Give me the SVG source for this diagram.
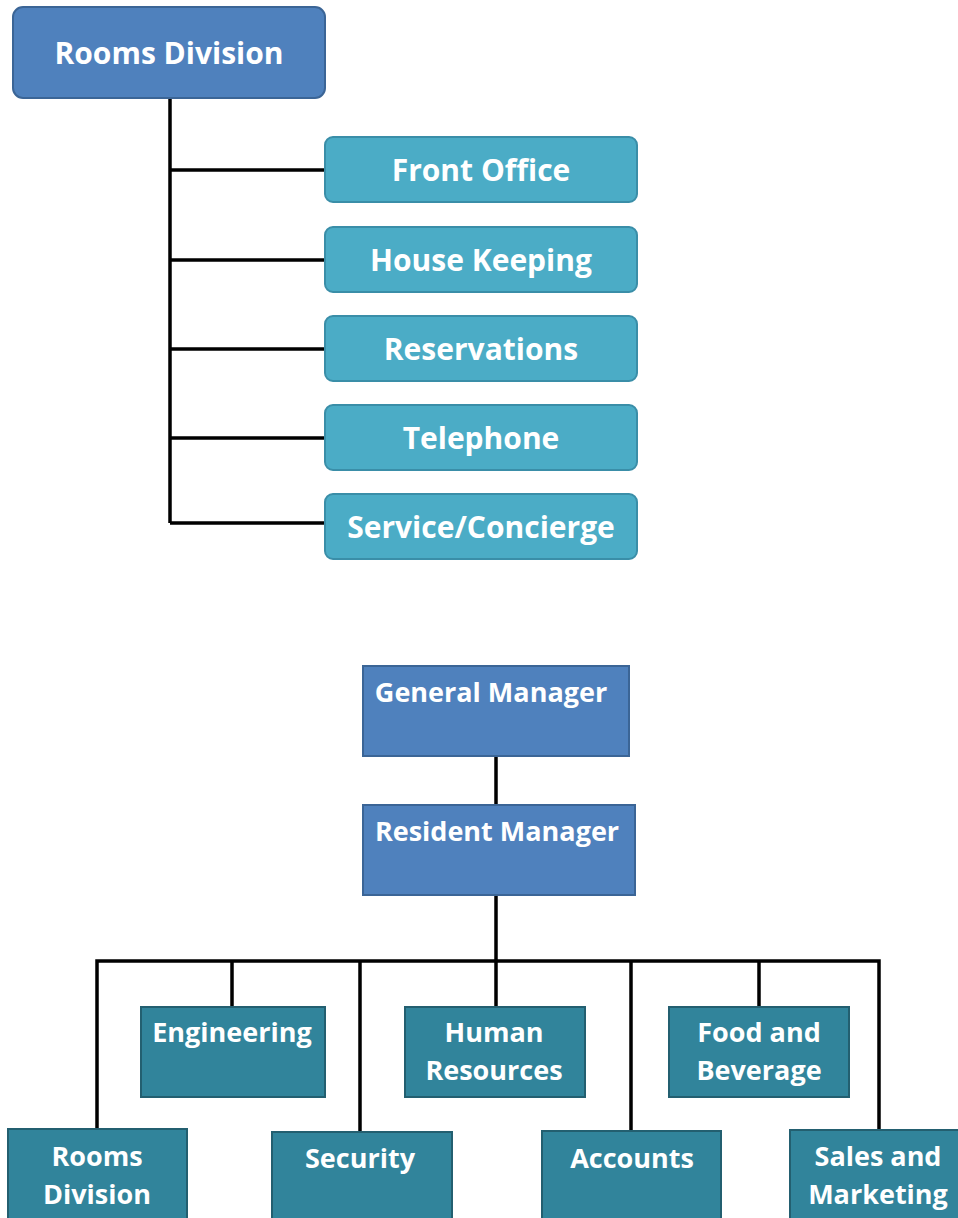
<svg xmlns="http://www.w3.org/2000/svg" width="958" height="1218" viewBox="0 0 958 1218">
<style>
.t{font-family:"Open Sans","Noto Sans",sans-serif;font-weight:bold;fill:#ffffff;text-anchor:middle}
.top{font-size:30px}
.bot{font-size:27px}
.blue{fill:#4F81BD;stroke:#3B6596;stroke-width:2}
.teal{fill:#4BACC6;stroke:#3A8EA8;stroke-width:2}
.dteal{fill:#31849B;stroke:#235F70;stroke-width:2}
.ln{stroke:#000;stroke-width:3.5;fill:none}
</style>
<rect width="958" height="1218" fill="#ffffff"/>
<g id="connectors">
<path class="ln" d="M170 98 V523 M170 170 H325 M170 260 H325 M170 349 H325 M170 438 H325 M170 523 H325"/>
<path class="ln" d="M496 756 V805 M496 895 V961 M97 1129 V961 H879 V1130 M232 961 V1007 M360 961 V1132 M496 961 V1007 M631 961 V1131 M759 961 V1007"/>
</g>
<g id="rooms-division-top"><rect class="blue" x="13" y="7" width="312" height="91" rx="10"/><text class="t top" x="169" y="64">Rooms Division</text></g>
<g id="front-office"><rect class="teal" x="325" y="137" width="312" height="65" rx="8"/><text class="t top" x="481" y="181">Front Office</text></g>
<g id="house-keeping"><rect class="teal" x="325" y="227" width="312" height="65" rx="8"/><text class="t top" x="481" y="271">House Keeping</text></g>
<g id="reservations"><rect class="teal" x="325" y="316" width="312" height="65" rx="8"/><text class="t top" x="481" y="360">Reservations</text></g>
<g id="telephone"><rect class="teal" x="325" y="405" width="312" height="65" rx="8"/><text class="t top" x="481" y="449">Telephone</text></g>
<g id="service-concierge"><rect class="teal" x="325" y="494" width="312" height="65" rx="8"/><text class="t top" x="481" y="538">Service/Concierge</text></g>
<g id="general-manager"><rect class="blue" x="363" y="666" width="266" height="90"/><text class="t bot" x="491" y="702">General Manager</text></g>
<g id="resident-manager"><rect class="blue" x="363" y="805" width="272" height="90"/><text class="t bot" x="497" y="841">Resident Manager</text></g>
<g id="engineering"><rect class="dteal" x="141" y="1007" width="184" height="90"/><text class="t bot" x="232" y="1042">Engineering</text></g>
<g id="human-resources"><rect class="dteal" x="405" y="1007" width="180" height="90"/><text class="t bot" x="494" y="1042">Human</text><text class="t bot" x="494" y="1080">Resources</text></g>
<g id="food-beverage"><rect class="dteal" x="669" y="1007" width="180" height="90"/><text class="t bot" x="759" y="1042">Food and</text><text class="t bot" x="759" y="1080">Beverage</text></g>
<g id="rooms-division"><rect class="dteal" x="8" y="1129" width="179" height="100"/><text class="t bot" x="97" y="1166">Rooms</text><text class="t bot" x="97" y="1204">Division</text></g>
<g id="security"><rect class="dteal" x="272" y="1132" width="180" height="100"/><text class="t bot" x="360" y="1168">Security</text></g>
<g id="accounts"><rect class="dteal" x="542" y="1131" width="179" height="100"/><text class="t bot" x="632" y="1168">Accounts</text></g>
<g id="sales-marketing"><rect class="dteal" x="790" y="1130" width="180" height="100"/><text class="t bot" x="878" y="1166">Sales and</text><text class="t bot" x="878" y="1204">Marketing</text></g>
</svg>
